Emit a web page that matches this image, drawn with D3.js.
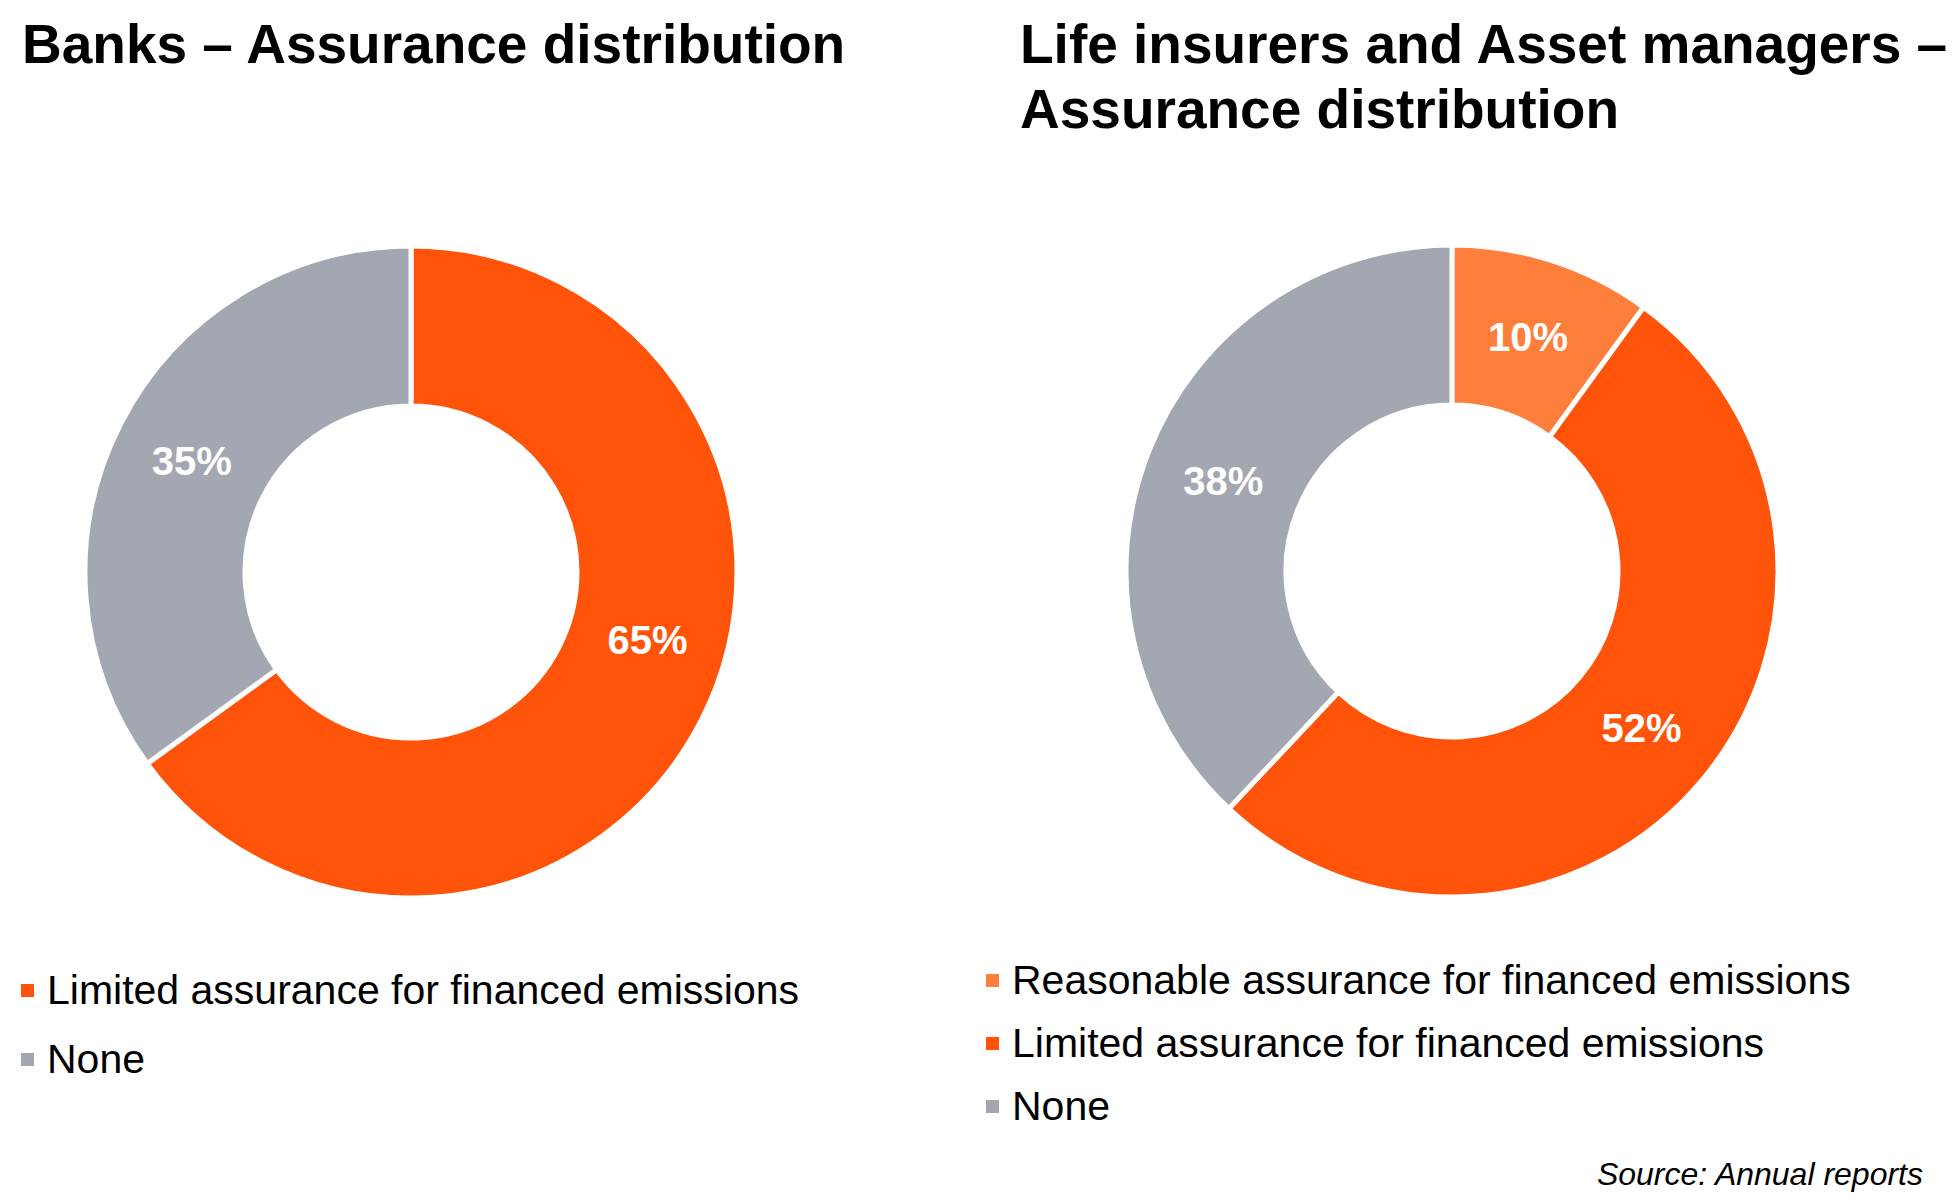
<!DOCTYPE html>
<html>
<head>
<meta charset="utf-8">
<script src="https://cdn.jsdelivr.net/npm/d3@7"></script>
<style>
  html, body { margin: 0; padding: 0; background: #fff; }
  svg { display: block; font-family: "Liberation Sans", Arial, sans-serif; }
</style>
</head>
<body>
<div id="chart"></div>
<script>
// data
const banksTitle = ["Banks – Assurance distribution"];
const banksLabels = ["Limited assurance for financed emissions", "None"];
const banksValues = [65, 35];

const lifeTitle = ["Life insurers and Asset managers –", "Assurance distribution"];
const lifeLabels = ["Reasonable assurance for financed emissions", "Limited assurance for financed emissions", "None"];
const lifeValues = [10, 52, 38];

const sourceText = "Source: Annual reports";

// colours per category
const colorOf = {
  "Reasonable assurance for financed emissions": "#fe7e3b",
  "Limited assurance for financed emissions": "#fe5309",
  "None": "#a2a7b1"
};

const width = 1958, height = 1200;
const innerR = 166, outerR = 326;

const svg = d3.select('#chart')
  .append('svg')
  .attr('width', width)
  .attr('height', height);

const pie = d3.pie().sort(null).value(d => d.value);
const arc = d3.arc().innerRadius(innerR).outerRadius(outerR);

// one donut panel: title, ring, percent labels, legend
function drawPanel(opts) {
  const g = svg.append('g');

  g.selectAll('text.title')
    .data(opts.title)
    .join('text')
    .attr('class', 'title')
    .attr('x', opts.titleX)
    .attr('y', (d, i) => 63 + i * 65)
    .style('font-size', '55px')
    .style('font-weight', 'bold')
    .style('fill', '#000')
    .text(d => d);

  const data = opts.labels.map((l, i) => ({label: l, value: opts.values[i]}));
  const arcs = pie(data);

  const ring = g.append('g').attr('transform', `translate(${opts.cx},${opts.cy})`);
  ring.selectAll('path')
    .data(arcs)
    .join('path')
    .attr('d', arc)
    .style('fill', d => colorOf[d.data.label])
    .style('stroke', '#fff')
    .style('stroke-width', 5);

  ring.selectAll('text')
    .data(arcs)
    .join('text')
    .attr('transform', (d, i) => {
      // label sits on the mid radius, optionally turned a little
      const a = (d.startAngle + d.endAngle) / 2 + (opts.labelTurn[i] || 0) * Math.PI / 180;
      const r = (innerR + outerR) / 2;
      return `translate(${r * Math.sin(a)},${-r * Math.cos(a)})`;
    })
    .attr('text-anchor', 'middle')
    .attr('dy', '0.36em')
    .style('font-size', '40px')
    .style('font-weight', 'bold')
    .style('fill', '#fff')
    .text(d => d.data.value + '%');

  const leg = g.selectAll('g.leg')
    .data(opts.labels)
    .join('g')
    .attr('class', 'leg')
    .attr('transform', (d, i) => `translate(${opts.legX},${opts.legY + i * opts.legStep})`);
  leg.append('rect')
    .attr('x', 0)
    .attr('y', -20)
    .attr('width', 13)
    .attr('height', 13)
    .style('fill', d => colorOf[d]);
  leg.append('text')
    .attr('x', 26)
    .attr('y', 0)
    .style('font-size', '41px')
    .style('fill', '#000')
    .text(d => d);
}

drawPanel({
  title: banksTitle, titleX: 22,
  labels: banksLabels, values: banksValues,
  cx: 411, cy: 572, labelTurn: [-11, 0],
  legX: 21, legY: 1004, legStep: 69
});

drawPanel({
  title: lifeTitle, titleX: 1020,
  labels: lifeLabels, values: lifeValues,
  cx: 1452, cy: 571, labelTurn: [0, 0, 0],
  legX: 986, legY: 994, legStep: 63
});

svg.append('text')
  .attr('x', 1923)
  .attr('y', 1185)
  .attr('text-anchor', 'end')
  .style('font-size', '32px')
  .style('font-style', 'italic')
  .style('fill', '#000')
  .text(sourceText);
</script>
</body>
</html>
